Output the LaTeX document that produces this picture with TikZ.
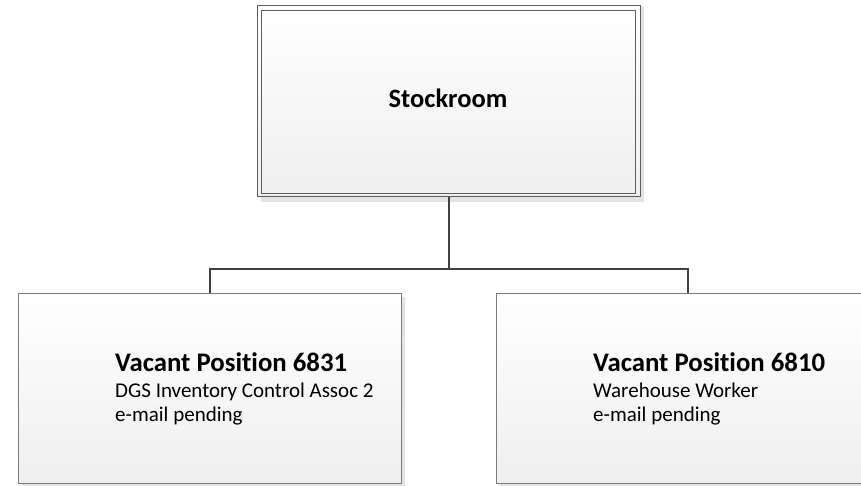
\documentclass[tikz,border=0pt]{standalone}
\usepackage{fontspec}
\setmainfont{Carlito}[Ligatures={NoCommon}]
\definecolor{boxline}{HTML}{7A7A7A}
\definecolor{topline}{HTML}{5E5E5E}
\definecolor{conn}{HTML}{404040}
\definecolor{shadowc}{HTML}{E3E3E3}
\definecolor{fillbot}{HTML}{EFEFEF}
\begin{document}
\begin{tikzpicture}[x=1pt,y=1pt,
  posbox/.style={draw=boxline, line width=1pt, minimum width=383pt, minimum height=190pt,
    inner sep=0pt, top color=white, bottom color=fillbot},
  topbox/.style={draw=topline, line width=1pt, minimum width=383pt, minimum height=191pt,
    inner sep=0pt, top color=white, bottom color=fillbot},
  shadowbox/.style={fill=shadowc, draw=none},
  heading/.style={anchor=base, inner sep=0pt, font=\fontsize{26.5}{31}\selectfont\bfseries},
  title/.style={anchor=base west, inner sep=0pt, font=\fontsize{26.8}{31}\selectfont\bfseries},
  line/.style={anchor=base west, inner sep=0pt, font=\fontsize{21}{25}\selectfont},
  connector/.style={draw=conn, line width=2pt}]
\useasboundingbox (0,0) rectangle (861,485);
\clip (0,0) rectangle (861,485);
% shadows
\fill[shadowbox] (261,479) rectangle (644,283);
\fill[shadowbox] (22,188) rectangle (405,-2);
\fill[shadowbox] (500,188) rectangle (883,-2);
% top box
\node[topbox] (top) at (448.5,383.5) {};
\draw[topline, line width=1pt] ([xshift=5pt,yshift=-5pt]top.north west) rectangle ([xshift=-5pt,yshift=4pt]top.south east);
\node[heading] (st) at (448,377) {Stockroom};
% bottom boxes
\node[posbox] (v1) at (209.5,97) {};
\node[posbox] (v2) at (687.5,97) {};
% connectors
\coordinate (j) at (448.5,216);
\draw[connector] (top.south) -- (j) -| (v1.north);
\draw[connector] (j) -| (v2.north);
% texts
\node[title] (t1a) at (115,114) {Vacant Position 6831};
\node[line] (t1b) at (115,88) {DGS Inventory Control Assoc 2};
\node[line] (t1c) at (115,64) {e-mail pending};
\node[title] (t2a) at (593,114) {Vacant Position 6810};
\node[line] (t2b) at (593,88) {Warehouse Worker};
\node[line] (t2c) at (593,64) {e-mail pending};
\end{tikzpicture}
\end{document}
